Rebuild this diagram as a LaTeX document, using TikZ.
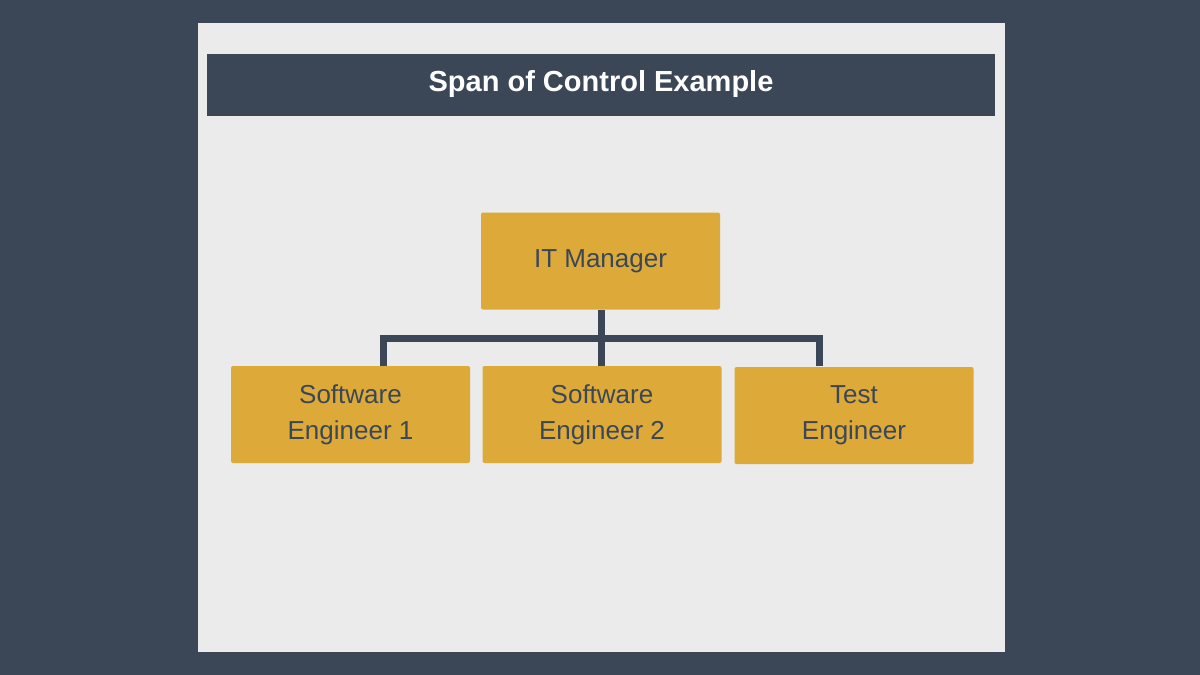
\documentclass[tikz,border=0pt]{standalone}
\usepackage{fontspec}
\setmainfont{Liberation Sans}
\definecolor{dark}{HTML}{3B4756}
\definecolor{panel}{HTML}{EBEBEB}
\definecolor{gold}{HTML}{DDAA3A}
\begin{document}
\begin{tikzpicture}[x=1pt,y=-1pt,
  box/.style={fill=gold,rounded corners=2pt,minimum width=239pt,minimum height=97pt,text=dark,font=\fontsize{26}{36}\selectfont,align=center,inner sep=0pt},
  conn/.style={draw=dark,line width=7pt}]
\fill[dark] (0,0) rectangle (1200,675);
\useasboundingbox (0,0) rectangle (1200,675);
\fill[panel] (198,23) rectangle (1005,652);
\fill[dark] (207,54) rectangle (995,116);
\node[text=white,font=\fontsize{29}{34}\selectfont\bfseries] (title) at (601,84) {Span of Control Example};
\node[box] (mgr) at (600.5,261) {IT Manager};
\node[box] (se1) at (350.5,414.5) {Software\\Engineer 1};
\node[box] (se2) at (602,414.5) {Software\\Engineer 2};
\node[box] (te) at (854,415.5) {Test\\Engineer};
\coordinate (j) at (601,338);
\draw[conn] (mgr.south -| j) -- (se2.north -| j);
\draw[conn] (383,366) -- (383,338) -- (819,338) -- (819,366);
\end{tikzpicture}
\end{document}
